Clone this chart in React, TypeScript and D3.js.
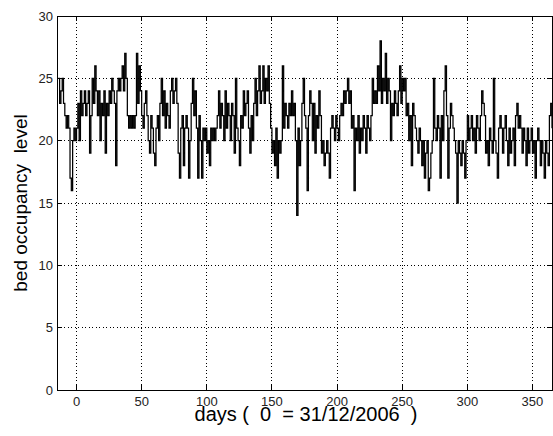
import React from "react";
import * as d3 from "d3";

const startDay = -14;
const occupancy: number[] = [
  // -14 .. -10
  25, 23, 24, 25, 23,
  // -9 .. -6
  22, 21, 22, 21,
  // -5 .. -3
  17, 16, 20,
  // -2 .. 0
  21, 20, 21,
  // 1 .. 2
  23, 20,
  // 3 .. 9
  24, 22, 23, 24, 22, 23, 24,
  // 10 .. 11
  19, 22,
  // 12 .. 15
  25, 23, 26, 24,
  // 16 .. 25
  22, 24, 20, 23, 22, 24, 19, 23, 22, 24,
  // 26 .. 29
  23, 25, 24, 23,
  // 30
  18,
  // 31 .. 38
  24, 25, 24, 25, 26, 24, 27, 25,
  // 39 .. 45
  22, 21, 22, 21, 22, 21, 22,
  // 46 .. 49
  27, 23, 26, 24,
  // 50 .. 54
  22, 21, 23, 24, 22,
  // 55 .. 59
  20, 19, 22, 21, 19,
  // 60 .. 63
  18, 21, 22, 20,
  // 64 .. 67
  23, 25, 22, 24,
  // 68 .. 71
  21, 23, 22, 21,
  // 72 .. 77
  24, 25, 23, 24, 25, 23,
  // 78 .. 79
  19, 17,
  // 80 .. 85
  21, 22, 18, 21, 22, 21,
  // 86 .. 87
  17, 20,
  // 88 .. 91
  23, 25, 22, 24,
  // 92 .. 95
  21, 17, 22, 20,
  // 96 .. 97
  17, 21,
  // 98 .. 107
  20, 21, 19, 20, 18, 21, 20, 21, 20, 21,
  // 108 .. 112
  22, 24, 21, 23, 22,
  // 113 .. 115
  20, 24, 21,
  // 116 .. 121
  23, 22, 20, 23, 22, 19,
  // 122
  25,
  // 123 .. 127
  21, 20, 18, 22, 21,
  // 128 .. 131
  24, 22, 23, 24,
  // 132 .. 136
  21, 19, 22, 20, 23,
  // 137 .. 138
  25, 22,
  // 139 .. 148
  24, 26, 23, 24, 26, 23, 25, 24, 26, 23,
  // 149 .. 153
  21, 19, 20, 18, 21,
  // 154 .. 157
  17, 20, 19, 20,
  // 158
  26,
  // 159 .. 164
  21, 23, 22, 21, 23, 22,
  // 165 .. 167
  24, 22, 23,
  // 168 .. 172
  20, 14, 21, 18, 20,
  // 173 .. 176
  23, 25, 22, 21,
  // 177 .. 180
  16, 22, 24, 23,
  // 181 .. 184
  20, 23, 19, 22,
  // 185 .. 187
  21, 24, 22,
  // 188 .. 193
  19, 20, 18, 19, 20, 19,
  // 194 .. 197
  17, 21, 22, 21,
  // 198 .. 202
  20, 22, 21, 20, 22,
  // 203 .. 206
  23, 22, 24, 23,
  // 207 .. 210
  24, 25, 23, 24,
  // 211 .. 212
  21, 22,
  // 213
  16,
  // 214 .. 220
  21, 20, 22, 19, 21, 20, 22,
  // 221 .. 225
  21, 19, 22, 21, 20,
  // 226 .. 229
  22, 25, 23, 24,
  // 230 .. 236
  23, 26, 24, 28, 23, 25, 24,
  // 237 .. 240
  27, 23, 25, 24,
  // 241
  20,
  // 242 .. 246
  23, 22, 24, 23, 22,
  // 247 .. 252
  24, 26, 23, 25, 24, 25,
  // 253 .. 259
  22, 23, 20, 22, 18, 23, 22,
  // 260 .. 265
  21, 20, 19, 21, 20, 18,
  // 266 .. 269
  20, 17, 19, 20,
  // 270 .. 271
  16, 17,
  // 272 .. 273
  19, 20,
  // 274
  25,
  // 275 .. 281
  21, 20, 22, 21, 17, 22, 20,
  // 282 .. 283
  24, 26,
  // 284 .. 289
  22, 17, 21, 23, 22, 21,
  // 290 .. 292
  20, 19, 15,
  // 293 .. 299
  20, 19, 18, 20, 19, 17, 20,
  // 300 .. 304
  22, 20, 21, 22, 20,
  // 305 .. 309
  21, 19, 22, 21, 20,
  // 310 .. 313
  22, 24, 23, 22,
  // 314 .. 317
  19, 20, 18, 21,
  // 318 .. 319
  20, 19,
  // 320
  25,
  // 321 .. 323
  20, 19, 17,
  // 324 .. 326
  21, 22, 21,
  // 327 .. 336
  19, 21, 22, 20, 18, 21, 19, 20, 21, 18,
  // 337 .. 341
  22, 23, 21, 22, 21,
  // 342 .. 349
  19, 21, 20, 18, 21, 19, 20, 21,
  // 350 .. 353
  19, 20, 17, 20,
  // 354 .. 355
  21, 20,
  // 356 .. 362
  18, 20, 19, 17, 20, 19, 18,
  // 363 .. 365
  22, 23, 21,
];

const xTicks = [0, 50, 100, 150, 200, 250, 300, 350];
const yTicks = [0, 5, 10, 15, 20, 25, 30];
const xLabel = "days (  0  = 31/12/2006  )";
const yLabel = "bed occupancy  level";

const W = 553;
const H = 436;
const L = 57;
const R = 552;
const T = 16;
const B = 390;

export default function App() {
  const x = d3.scaleLinear().domain([-15, 365]).range([L, R]);
  const y = d3.scaleLinear().domain([0, 30]).range([B, T]);
  const pts: [number, number][] = occupancy.map((v, i) => [startDay + i, v]);
  const line = d3
    .line<[number, number]>()
    .x((d) => x(d[0]))
    .y((d) => y(d[1]))
    .curve(d3.curveStepAfter);
  const font = "Arial, 'Liberation Sans', Helvetica, sans-serif";
  const tl = 5;
  return (
    <svg
      width={W}
      height={H}
      style={{ position: "absolute", left: 0, top: 0, background: "#fff" }}
    >
      <rect x={0} y={0} width={W} height={H} fill="#fff" />
      {/* grid */}
      {xTicks.map((t) => (
        <line
          key={"gx" + t}
          x1={x(t)}
          x2={x(t)}
          y1={T}
          y2={B}
          stroke="#000"
          strokeWidth={1}
          strokeDasharray="1 2.5"
          shapeRendering="crispEdges"
        />
      ))}
      {yTicks.slice(1, -1).map((t) => (
        <line
          key={"gy" + t}
          x1={L}
          x2={R}
          y1={y(t)}
          y2={y(t)}
          stroke="#000"
          strokeWidth={1}
          strokeDasharray="1 2.5"
          shapeRendering="crispEdges"
        />
      ))}
      {/* data */}
      <path d={line(pts) || ""} fill="none" stroke="#000" strokeWidth={1.25} />
      {/* ticks */}
      {xTicks.map((t) => (
        <g key={"tx" + t}>
          <line x1={x(t)} x2={x(t)} y1={B} y2={B - tl} stroke="#000" shapeRendering="crispEdges" />
          <line x1={x(t)} x2={x(t)} y1={T} y2={T + tl} stroke="#000" shapeRendering="crispEdges" />
          <text
            x={x(t)}
            y={B + 16}
            textAnchor="middle"
            fontFamily={font}
            fontSize={13}
            fill="#222"
          >
            {t}
          </text>
        </g>
      ))}
      {yTicks.map((t) => (
        <g key={"ty" + t}>
          <line x1={L} x2={L + tl} y1={y(t)} y2={y(t)} stroke="#000" shapeRendering="crispEdges" />
          <line x1={R} x2={R - tl} y1={y(t)} y2={y(t)} stroke="#000" shapeRendering="crispEdges" />
          <text
            x={L - 4}
            y={y(t) + 4.5}
            textAnchor="end"
            fontFamily={font}
            fontSize={13}
            fill="#222"
          >
            {t}
          </text>
        </g>
      ))}
      {/* frame */}
      <rect
        x={L}
        y={T}
        width={R - L}
        height={B - T}
        fill="none"
        stroke="#000"
        strokeWidth={1}
        shapeRendering="crispEdges"
      />
      {/* labels */}
      <text
        x={306}
        y={421}
        textAnchor="middle"
        fontFamily={font}
        fontSize={20}
        fill="#000"
        style={{ whiteSpace: "pre" }}
      >
        {xLabel}
      </text>
      <text
        transform={`translate(27, ${(T + B) / 2}) rotate(-90)`}
        textAnchor="middle"
        fontFamily={font}
        fontSize={19}
        fill="#000"
        style={{ whiteSpace: "pre" }}
      >
        {yLabel}
      </text>
    </svg>
  );
}
